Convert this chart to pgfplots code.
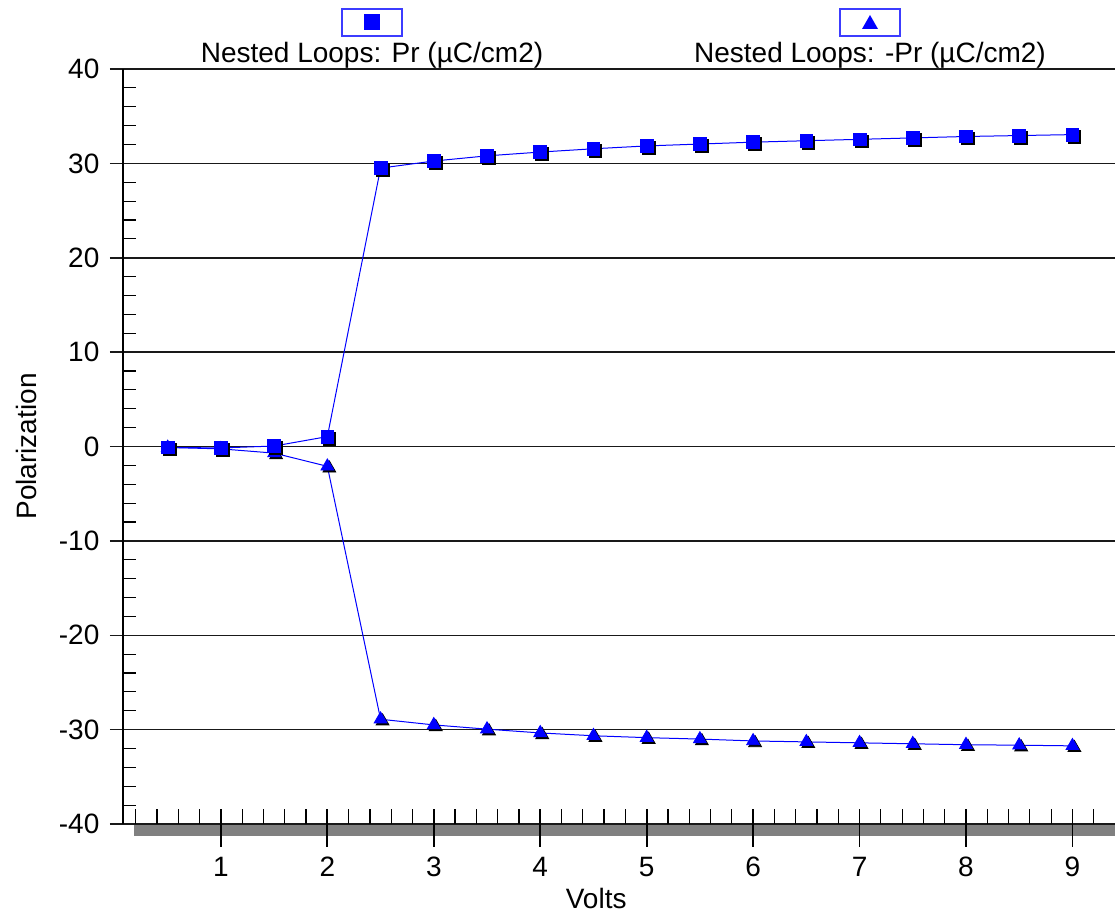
\documentclass[border=0pt]{standalone}
\usepackage{fontspec}
\setmainfont{Liberation Sans}
\usepackage{pgfplots}
\usepackage{pgfplotstable}
\pgfplotsset{compat=1.18}

\definecolor{markblue}{RGB}{0,0,255}
\definecolor{legblue}{RGB}{60,60,255}
\definecolor{bargray}{RGB}{128,128,128}
\definecolor{gridc}{RGB}{25,25,25}

% Volts vs. Pr and -Pr (uC/cm2)
\pgfplotstableread{
v    pr      npr
0.5  -0.10   -0.10
1.0  -0.15   -0.25
1.5   0.05   -0.70
2.0   1.05   -2.10
2.5  29.50  -28.90
3.0  30.25  -29.50
3.5  30.80  -29.95
4.0  31.20  -30.35
4.5  31.55  -30.65
5.0  31.85  -30.85
5.5  32.05  -31.00
6.0  32.25  -31.20
6.5  32.40  -31.30
7.0  32.55  -31.40
7.5  32.70  -31.50
8.0  32.85  -31.60
8.5  32.95  -31.65
9.0  33.05  -31.72
}\loops

\begin{document}
\begin{tikzpicture}
\begin{axis}[
    scale only axis,
    width=496pt, height=377.5pt,
    at={(0,0)}, anchor=south west,
    xmin=0.08, xmax=9.4,
    ymin=-40, ymax=40,
    axis x line=bottom, axis y line=left,
    axis line style={draw=none},
    tick style={draw=none},
    major tick length=0pt,
    xtick={1,2,3,4,5,6,7,8,9},
    xticklabels={1,2,3,4,5,6,7,8,9},
    ytick={-40,-30,-20,-10,0,10,20,30,40},
    yticklabels={-40,-30,-20,-10,0,10,20,30,40},
    every tick label/.append style={font=\fontsize{14}{16}\selectfont, text=black},
    xticklabel style={anchor=north, yshift=-13pt},
    yticklabel style={anchor=east, xshift=-8.3pt},
    xlabel={Volts},
    ylabel={Polarization},
    label style={font=\fontsize{14}{16}\selectfont},
    xlabel style={at={(axis description cs:0.477,0)}, anchor=base, yshift=-42pt},
    ylabel style={at={(axis description cs:-0.0968,0.5)}, anchor=center},
    clip=false,
]
% gray strip under the x axis
\fill[bargray] (axis cs:0.18,-40) rectangle ([yshift=-6pt]axis cs:9.4,-40);
% horizontal grid, reaching out past the y axis
\pgfplotsinvokeforeach{-40,-30,-20,-10,0,10,20,30,40}{
  \draw[gridc, line width=0.75pt] ([xshift=-6.5pt]axis cs:0.08,#1) -- (axis cs:9.4,#1);
}
\draw[black, line width=0.8pt] (axis cs:0.08,-40) -- (axis cs:0.08,40);
% minor ticks
\pgfplotsinvokeforeach{-38,-36,-34,-32,-28,-26,-24,-22,-18,-16,-14,-12,-8,-6,-4,-2,2,4,6,8,12,14,16,18,22,24,26,28,32,34,36,38}{
  \draw[black, line width=0.6pt] (axis cs:0.08,#1) -- ([xshift=6.5pt]axis cs:0.08,#1);
}
\pgfplotsinvokeforeach{0.2,0.4,0.6,0.8,1.2,1.4,1.6,1.8,2.2,2.4,2.6,2.8,3.2,3.4,3.6,3.8,4.2,4.4,4.6,4.8,5.2,5.4,5.6,5.8,6.2,6.4,6.6,6.8,7.2,7.4,7.6,7.8,8.2,8.4,8.6,8.8,9.2}{
  \draw[black, line width=0.6pt] (axis cs:#1,-40) -- ([yshift=7.5pt]axis cs:#1,-40);
}
\pgfplotsinvokeforeach{1,2,3,4,5,6,7,8,9}{
  \draw[black, line width=0.9pt] ([yshift=7.5pt]axis cs:#1,-40) -- ([yshift=-11.5pt]axis cs:#1,-40);
}

% series lines
\addplot[markblue, line width=0.5pt, mark=none] table[x=v, y=pr] {\loops};
\addplot[markblue, line width=0.5pt, mark=none] table[x=v, y=npr] {\loops};
% -Pr markers with shadow
\addplot[only marks, mark=triangle*, mark size=3.7pt, black,
  mark options={xshift=1pt, yshift=-1pt}] table[x=v, y=npr] {\loops};
\addplot[only marks, mark=triangle*, mark size=3.7pt, markblue] table[x=v, y=npr] {\loops};
% Pr markers with shadow
\addplot[only marks, mark=square*, mark size=3.2pt, black,
  mark options={xshift=1pt, yshift=-1pt}] table[x=v, y=pr] {\loops};
\addplot[only marks, mark=square*, mark size=3.2pt, markblue] table[x=v, y=pr] {\loops};
\end{axis}

% legend, one entry above each half of the plot
\node[draw=legblue, line width=0.6pt, minimum width=30pt, minimum height=13.5pt, inner sep=0pt] at (124.5pt,400.75pt) {};
\fill[markblue] (120.5pt,396.75pt) rectangle (128.5pt,404.75pt);
\node[anchor=base, inner sep=0pt, font=\fontsize{14}{16}\selectfont] at (124.5pt,380.5pt) {Nested Loops: Pr (µC/cm2)};

\node[draw=legblue, line width=0.6pt, minimum width=30pt, minimum height=13.5pt, inner sep=0pt] at (373.5pt,400.75pt) {};
\fill[markblue] (369.5pt,397.5pt) -- (377.5pt,397.5pt) -- (373.5pt,404.5pt) -- cycle;
\node[anchor=base, inner sep=0pt, font=\fontsize{14}{16}\selectfont] at (373.5pt,380.5pt) {Nested Loops: -Pr (µC/cm2)};

\pgfresetboundingbox
\path[use as bounding box] (-61.5pt,-44pt) rectangle (496pt,412pt);
\end{tikzpicture}
\end{document}
